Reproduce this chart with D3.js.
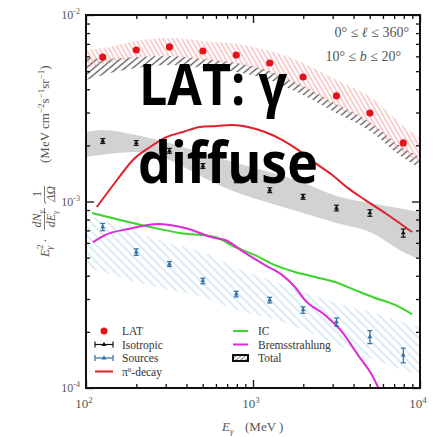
<!DOCTYPE html>
<html><head><meta charset="utf-8">
<script src="https://cdn.jsdelivr.net/npm/d3@7"></script>
<style>body{margin:0;background:#fff;} svg{display:block;}</style>
</head><body>
<svg id="c" width="435" height="437"></svg>
<script>
// ---- data ----
const energies = [126, 200, 316, 501, 794, 1259, 1995, 3162, 5012, 7943];
const latFlux = [5.95e-3, 6.49e-3, 6.74e-3, 6.41e-3, 6.10e-3, 5.53e-3, 4.65e-3, 3.68e-3, 2.98e-3, 2.06e-3];
const isoFlux = [2.11e-3, 2.06e-3, 1.87e-3, 1.55e-3, 1.30e-3, 1.15e-3, 1.06e-3, 9.23e-4, 8.68e-4, 6.78e-4];
const isoErr = [0.03, 0.03, 0.03, 0.03, 0.03, 0.03, 0.03, 0.035, 0.04, 0.05];
const srcFlux = [7.30e-4, 5.36e-4, 4.62e-4, 3.75e-4, 3.19e-4, 2.96e-4, 2.62e-4, 2.26e-4, 1.88e-4, 1.50e-4];
const srcErr = [0.045, 0.04, 0.03, 0.035, 0.035, 0.035, 0.04, 0.05, 0.08, 0.09];

const bandE = [100, 126, 200, 316, 501, 794, 1259, 1995, 3162, 5012, 7943, 10000];
const latHi = [6.49e-3, 6.65e-3, 7.26e-3, 7.53e-3, 7.26e-3, 6.99e-3, 6.41e-3, 5.53e-3, 4.48e-3, 3.63e-3, 2.54e-3, 2.19e-3];
const latLo = [5.20e-3, 5.46e-3, 5.88e-3, 6.03e-3, 5.74e-3, 5.46e-3, 4.89e-3, 4.06e-3, 3.21e-3, 2.57e-3, 1.82e-3, 1.63e-3];
const totHi = [5.95e-3, 5.81e-3, 5.95e-3, 6.03e-3, 5.81e-3, 5.53e-3, 5.01e-3, 4.16e-3, 3.33e-3, 2.67e-3, 1.94e-3, 1.73e-3];
const totLo = [4.48e-3, 4.77e-3, 5.20e-3, 5.39e-3, 5.20e-3, 4.95e-3, 4.48e-3, 3.72e-3, 2.98e-3, 2.39e-3, 1.71e-3, 1.51e-3];
const isoHi = [2.36e-3, 2.42e-3, 2.27e-3, 2.06e-3, 1.82e-3, 1.61e-3, 1.44e-3, 1.26e-3, 1.07e-3, 9.82e-4, 9.12e-4, 8.79e-4];
const isoLo = [1.73e-3, 1.78e-3, 1.84e-3, 1.67e-3, 1.35e-3, 1.12e-3, 9.82e-4, 8.68e-4, 7.67e-4, 6.86e-4, 5.36e-4, 4.86e-4];
const srcHi = [8.46e-4, 7.96e-4, 6.86e-4, 5.99e-4, 5.36e-4, 4.40e-4, 3.79e-4, 3.27e-4, 2.86e-4, 2.56e-4, 2.26e-4, 2.12e-4];
const srcLo = [4.40e-4, 4.19e-4, 3.70e-4, 3.35e-4, 3.08e-4, 2.62e-4, 2.37e-4, 2.05e-4, 1.70e-4, 1.45e-4, 1.25e-4, 1.17e-4];

const pi0E = [116, 153, 191, 242, 305, 381, 482, 609, 748, 933, 1180, 1492, 1860, 2350, 2971, 3706, 4688, 6433, 8954];
const pi0Flux = [9.34e-4, 1.30e-3, 1.67e-3, 1.96e-3, 2.22e-3, 2.36e-3, 2.51e-3, 2.54e-3, 2.57e-3, 2.51e-3, 2.36e-3, 2.14e-3, 1.89e-3, 1.61e-3, 1.39e-3, 1.18e-3, 1.02e-3, 8.46e-4, 6.86e-4];
const icE = [109, 160, 242, 365, 592, 779, 1028, 1355, 1783, 2350, 3097, 4083, 5382, 7083, 8954];
const icFlux = [8.68e-4, 7.96e-4, 7.30e-4, 6.78e-4, 6.45e-4, 5.70e-4, 5.16e-4, 4.56e-4, 4.19e-4, 3.94e-4, 3.70e-4, 3.35e-4, 3.04e-4, 2.79e-4, 2.49e-4];
const bremE = [110, 130, 178, 270, 392, 592, 680, 895, 1180, 1492, 1783, 2047, 2698, 3412, 4256, 5164, 5800];
const bremFlux = [6.06e-4, 6.61e-4, 7.12e-4, 7.57e-4, 7.21e-4, 6.37e-4, 6.22e-4, 5.30e-4, 4.56e-4, 4.04e-4, 3.48e-4, 2.96e-4, 2.46e-4, 2.00e-4, 1.50e-4, 1.17e-4, 9.5e-5];

const xMajor = [100, 1000, 10000];
const xLabelExp = ["2", "3", "4"];
const yMajor = [1e-4, 1e-3, 1e-2];
const yLabelExp = ["-4", "-3", "-2"];

// ---- drawing ----
const svg = d3.select("#c");
const L = 86, R = 420, T = 15, B = 388;
const x = d3.scaleLog().domain([100, 10000]).range([L, R]);
const y = d3.scaleLog().domain([1e-4, 1e-2]).range([B, T]);

const defs = svg.append("defs");
defs.append("clipPath").attr("id", "clip").append("rect")
  .attr("x", L).attr("y", T).attr("width", R - L).attr("height", B - T);
function hatch(id, color, w, sp, ang) {
  const p = defs.append("pattern").attr("id", id).attr("patternUnits", "userSpaceOnUse")
    .attr("width", sp).attr("height", sp).attr("patternTransform", `rotate(${ang})`);
  p.append("line").attr("x1", sp / 2).attr("y1", 0).attr("x2", sp / 2).attr("y2", sp)
    .attr("stroke", color).attr("stroke-width", w);
}
hatch("hRed", "#f2a0a0", 1, 4, -30);
hatch("hBlk", "#555", 1.3, 5, 50);
hatch("hBlue", "#b9d8ea", 1, 6, -45);
hatch("hLeg", "#888", 1, 3, 50);

const plot = svg.append("g").attr("clip-path", "url(#clip)");
const band = (hi, lo) => d3.area().x((d, i) => x(bandE[i])).y0((d, i) => y(lo[i])).y1((d, i) => y(hi[i])).curve(d3.curveMonotoneX)(bandE);

plot.append("path").attr("d", band(srcHi, srcLo)).attr("fill", "url(#hBlue)");
plot.append("path").attr("d", band(isoHi, isoLo)).attr("fill", "#d2d2d2");
plot.append("path").attr("d", band(totHi, totLo)).attr("fill", "url(#hBlk)");
plot.append("path").attr("d", band(latHi, latLo)).attr("fill", "url(#hRed)");

const line = d3.line().x(d => x(d[0])).y(d => y(d[1])).curve(d3.curveMonotoneX);
plot.append("path").attr("d", line(icE.map((e, i) => [e, icFlux[i]]))).attr("fill", "none").attr("stroke", "#3bd42a").attr("stroke-width", 2);
plot.append("path").attr("d", line(bremE.map((e, i) => [e, bremFlux[i]]))).attr("fill", "none").attr("stroke", "#dd2ad8").attr("stroke-width", 2);
plot.append("path").attr("d", line(pi0E.map((e, i) => [e, pi0Flux[i]]))).attr("fill", "none").attr("stroke", "#e0202a").attr("stroke-width", 2);

// error-bar points
function errPts(vals, errs, color, cap) {
  const g = plot.append("g");
  energies.forEach((e, i) => {
    const cx = x(e), y1 = y(vals[i] * (1 + errs[i])), y2 = y(vals[i] * (1 - errs[i]));
    g.append("line").attr("x1", cx).attr("x2", cx).attr("y1", y1).attr("y2", y2).attr("stroke", color).attr("stroke-width", 1.2);
    g.append("line").attr("x1", cx - cap).attr("x2", cx + cap).attr("y1", y1).attr("y2", y1).attr("stroke", color).attr("stroke-width", 1.2);
    g.append("line").attr("x1", cx - cap).attr("x2", cx + cap).attr("y1", y2).attr("y2", y2).attr("stroke", color).attr("stroke-width", 1.2);
    g.append("path").attr("d", d3.symbol(d3.symbolTriangle, 10)()).attr("transform", `translate(${cx},${y(vals[i])})`).attr("fill", color);
  });
}
errPts(isoFlux, isoErr, "#111", 2.5);
errPts(srcFlux, srcErr, "#2f6fa3", 2.5);

plot.selectAll("circle.lat").data(energies).join("circle").attr("class", "lat")
  .attr("cx", d => x(d)).attr("cy", (d, i) => y(latFlux[i])).attr("r", 3.6).attr("fill", "#e3121c");

// axes
const xMinor = [], yMinor = [];
for (let k = 2; k < 4; k++) for (let m = 2; m < 10; m++) xMinor.push(m * 10 ** k);
for (let k = -4; k < -2; k++) for (let m = 2; m < 10; m++) yMinor.push(+(m * 10 ** k).toPrecision(3));
function ax(gen, tr, vals, size) {
  const g = svg.append("g").attr("transform", tr).call(gen.tickValues(vals).tickSize(-size).tickFormat(""));
  g.select(".domain").remove();
  g.selectAll("line").attr("stroke", "#111").attr("stroke-width", 1.3);
}
ax(d3.axisBottom(x), `translate(0,${B})`, xMajor, 8);
ax(d3.axisBottom(x), `translate(0,${B})`, xMinor, 4);
ax(d3.axisTop(x), `translate(0,${T})`, xMajor, 8);
ax(d3.axisTop(x), `translate(0,${T})`, xMinor, 4);
ax(d3.axisLeft(y), `translate(${L},0)`, yMajor, 8);
ax(d3.axisLeft(y), `translate(${L},0)`, yMinor, 4);
ax(d3.axisRight(y), `translate(${R},0)`, yMajor, 8);
ax(d3.axisRight(y), `translate(${R},0)`, yMinor, 4);
svg.append("rect").attr("x", L).attr("y", T).attr("width", R - L).attr("height", B - T)
  .attr("fill", "none").attr("stroke", "#111").attr("stroke-width", 2);

const serif = "'Liberation Serif', 'Times New Roman', serif";
const tc = "#555";
xMajor.forEach((v, i) => {
  const t = svg.append("text").attr("x", x(v) - 2).attr("y", 408).attr("text-anchor", "middle")
    .attr("font-family", serif).attr("font-size", 13).attr("fill", tc).text("10");
  t.append("tspan").attr("dy", -5).attr("font-size", 9).text(xLabelExp[i]);
});
yMajor.forEach((v, i) => {
  const t = svg.append("text").attr("x", 80).attr("y", y(v) + 4).attr("text-anchor", "end")
    .attr("font-family", serif).attr("font-size", 12).attr("fill", tc).text("10");
  t.append("tspan").attr("dy", -5).attr("font-size", 8).text(yLabelExp[i]);
});

// x label
const xl = svg.append("text").attr("x", 222).attr("y", 431).attr("font-family", serif).attr("font-size", 13).attr("fill", tc);
xl.append("tspan").attr("font-style", "italic").text("E");
xl.append("tspan").attr("font-style", "italic").attr("font-size", 9).attr("dy", 3).text("γ");
xl.append("tspan").attr("dy", -3).attr("x", 245).text("(MeV )");

// y label (rotated)
const yl = svg.append("g").attr("transform", "translate(42,152) rotate(-90)")
  .attr("font-family", serif).attr("fill", tc).attr("font-size", 13);
const e1 = yl.append("text").attr("x", -105).attr("y", 7);
e1.append("tspan").attr("font-style", "italic").text("E");
e1.append("tspan").attr("font-size", 9).attr("dy", -6).text("2");
e1.append("tspan").attr("font-size", 9).attr("font-style", "italic").attr("dx", -5).attr("dy", 9).text("γ");
e1.append("tspan").attr("dy", -3).text(" ·");
yl.append("text").attr("x", -67).attr("y", -1).attr("text-anchor", "middle").attr("font-style", "italic").attr("font-size", 12)
  .html('dN<tspan font-size="8" dy="3">γ</tspan>');
yl.append("line").attr("x1", -78).attr("x2", -56).attr("y1", 2.5).attr("y2", 2.5).attr("stroke", tc).attr("stroke-width", 0.8);
yl.append("text").attr("x", -67).attr("y", 13).attr("text-anchor", "middle").attr("font-style", "italic").attr("font-size", 12)
  .html('dE<tspan font-size="8" dy="3">γ</tspan>');
yl.append("text").attr("x", -53).attr("y", 7).text("·");
yl.append("text").attr("x", -42).attr("y", -1).attr("text-anchor", "middle").attr("font-size", 12).text("1");
yl.append("line").attr("x1", -50).attr("x2", -34).attr("y1", 2.5).attr("y2", 2.5).attr("stroke", tc).attr("stroke-width", 0.8);
yl.append("text").attr("x", -42).attr("y", 13).attr("text-anchor", "middle").attr("font-size", 12).attr("font-style", "italic").text("ΔΩ");
yl.append("text").attr("x", -11).attr("y", 7).attr("font-size", 13)
  .html('(MeV cm<tspan font-size="9" dy="-5">−2</tspan><tspan dy="5">s</tspan><tspan font-size="9" dy="-5">−1</tspan><tspan dy="5">sr</tspan><tspan font-size="9" dy="-5">−1</tspan><tspan dy="5">)</tspan>');

// region text
const r1 = svg.append("text").attr("x", 409).attr("y", 37).attr("text-anchor", "end").attr("font-family", serif).attr("font-size", 14).attr("fill", tc);
r1.html('0° ≤ <tspan font-style="italic">ℓ</tspan> ≤ 360°');
const r2 = svg.append("text").attr("x", 401).attr("y", 61).attr("text-anchor", "end").attr("font-family", serif).attr("font-size", 14).attr("fill", tc);
r2.html('10° ≤ <tspan font-style="italic">b</tspan> ≤ 20°');

// legend
const lg = svg.append("g").attr("font-family", serif).attr("font-size", 11.5).attr("fill", "#333");
const lx = 122, lx2 = 258;
const rows = [331, 344.5, 358, 371.5];
lg.append("circle").attr("cx", 104).attr("cy", rows[0]).attr("r", 3.5).attr("fill", "#e3121c");
lg.append("text").attr("x", lx).attr("y", rows[0] + 4).text("LAT");
function legErr(cy, color) {
  lg.append("line").attr("x1", 95).attr("x2", 113).attr("y1", cy).attr("y2", cy).attr("stroke", color).attr("stroke-width", 1.2);
  lg.append("line").attr("x1", 95).attr("x2", 95).attr("y1", cy - 3).attr("y2", cy + 3).attr("stroke", color).attr("stroke-width", 1.2);
  lg.append("line").attr("x1", 113).attr("x2", 113).attr("y1", cy - 3).attr("y2", cy + 3).attr("stroke", color).attr("stroke-width", 1.2);
  lg.append("path").attr("d", d3.symbol(d3.symbolTriangle, 10)()).attr("transform", `translate(104,${cy})`).attr("fill", color);
}
legErr(rows[1], "#111");
lg.append("text").attr("x", lx).attr("y", rows[1] + 4).text("Isotropic");
legErr(rows[2], "#2f6fa3");
lg.append("text").attr("x", lx).attr("y", rows[2] + 4).text("Sources");
lg.append("line").attr("x1", 95).attr("x2", 113).attr("y1", rows[3]).attr("y2", rows[3]).attr("stroke", "#e0202a").attr("stroke-width", 2);
lg.append("text").attr("x", lx).attr("y", rows[3] + 4).html('π<tspan font-size="7" dy="-4">0</tspan><tspan dy="4">-decay</tspan>');
lg.append("line").attr("x1", 233).attr("x2", 248).attr("y1", rows[0]).attr("y2", rows[0]).attr("stroke", "#3bd42a").attr("stroke-width", 2);
lg.append("text").attr("x", lx2).attr("y", rows[0] + 4).text("IC");
lg.append("line").attr("x1", 233).attr("x2", 248).attr("y1", rows[1]).attr("y2", rows[1]).attr("stroke", "#dd2ad8").attr("stroke-width", 2);
lg.append("text").attr("x", lx2).attr("y", rows[1] + 4).text("Bremsstrahlung");
lg.append("rect").attr("x", 233).attr("y", rows[2] - 3).attr("width", 15).attr("height", 6).attr("fill", "url(#hLeg)").attr("stroke", "#111").attr("stroke-width", 2);
lg.append("text").attr("x", lx2).attr("y", rows[2] + 4).text("Total");

// overlay title
const big = svg.append("g").attr("font-family", "'Open Sans', 'Liberation Sans', sans-serif").attr("font-weight", 700).attr("font-size", 58).attr("fill", "#000");
big.append("text").attr("x", 139).attr("y", 105).attr("textLength", 148).attr("lengthAdjust", "spacingAndGlyphs").text("LAT: γ");
big.append("text").attr("x", 138).attr("y", 183).attr("textLength", 180).attr("lengthAdjust", "spacingAndGlyphs").text("diffuse");
</script>
</body></html>
